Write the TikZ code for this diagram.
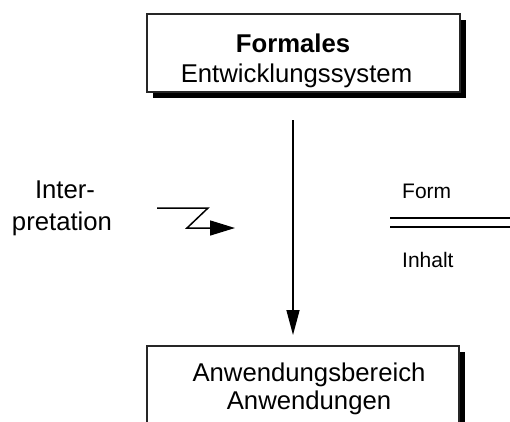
\documentclass[tikz,border=0pt]{standalone}
\usepackage{fontspec}
\setmainfont{Liberation Sans}
\usetikzlibrary{arrows.meta,shadows}
\begin{document}
\begin{tikzpicture}[x=1pt,y=-1pt,
  box/.style={draw=black!85, line width=2pt, fill=white, rectangle, inner sep=0pt,
    drop shadow={shadow xshift=6pt, shadow yshift=-6pt, fill=black, opacity=1}},
  big/.style={font=\fontsize{25.7}{30}\selectfont, inner sep=0pt, anchor=base},
  bigbold/.style={font=\fontsize{25.7}{30}\selectfont\bfseries, inner sep=0pt, anchor=base},
  small/.style={font=\fontsize{21}{25}\selectfont, inner sep=0pt, anchor=base west},
  conn/.style={line width=1.5pt, black},
]
\useasboundingbox (0,0) rectangle (510,421);
% boxes
\node[box, minimum width=313pt, minimum height=78pt] (top) at (303.5,53) {};
\node[box, minimum width=312pt, minimum height=110pt] (bot) at (303,401) {};
% box texts
\node[bigbold] (t1) at (293,52) {Formales};
\node[big] (t2) at (296.5,82) {Entwicklungssystem};
\node[big] (b1) at (309,381) {Anwendungsbereich};
\node[big] (b2) at (309,409) {Anwendungen};
% interpretation
\node[big] (i1) at (65,198) {Inter-};
\node[big] (i2) at (62,230) {pretation};
% main arrow
\coordinate (a1) at (293,120);
\coordinate (a2) at (293,335);
\draw[conn, -{Triangle[length=25pt,width=13pt]}] (a1) -- (a2);
% Z arrow
\coordinate (z1) at (157,208);
\coordinate (z2) at (208,208);
\coordinate (z3) at (187,228);
\coordinate (z4) at (235,228);
\draw[conn, line join=miter, -{Triangle[length=25pt,width=15pt]}] (z1) -- (z2) -- (z3) -- (z4);
% Form / Inhalt
\node[small] (f) at (402,198) {Form};
\node[small] (h) at (402,267) {Inhalt};
\coordinate (l1a) at (390,218);
\coordinate (l1b) at (510,218);
\coordinate (l2a) at (390,227);
\coordinate (l2b) at (510,227);
\draw[conn] (l1a) -- (l1b);
\draw[conn] (l2a) -- (l2b);
\end{tikzpicture}
\end{document}
